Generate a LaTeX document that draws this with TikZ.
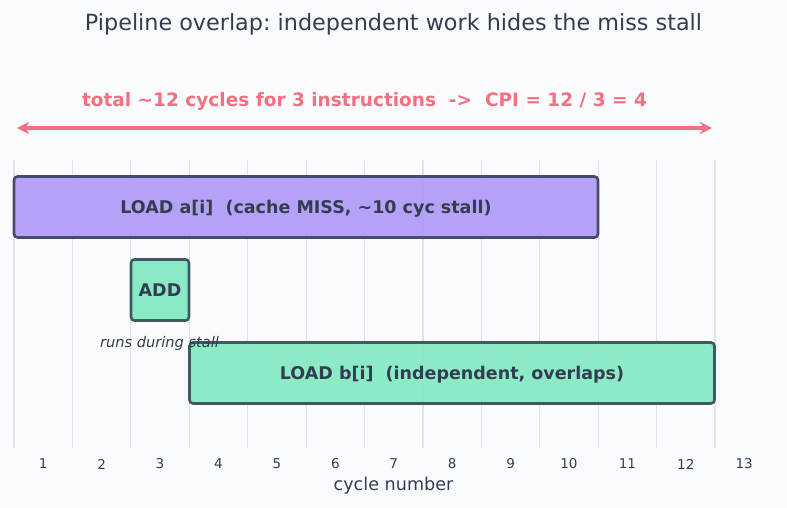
\documentclass[tikz,border=0pt]{standalone}
\usepackage{fontspec}
\setmainfont{DejaVu Sans}
\usetikzlibrary{arrows.meta}
\frenchspacing
\definecolor{bg}{HTML}{FAFBFE}
\definecolor{gridc}{HTML}{E2E3E8}
\definecolor{pinkc}{HTML}{F2707F}
\definecolor{purfill}{HTML}{B09BF8}
\definecolor{purdraw}{HTML}{474A6C}
\definecolor{grnfill}{HTML}{84E9C2}
\definecolor{grndraw}{HTML}{3E5A60}
\definecolor{txt}{HTML}{333D4F}
\newcommand{\barlbl}[1]{\raisebox{-6.6pt}[0pt][0pt]{#1}}
\tikzset{
  bar/.style={rounded corners=3.5pt, line width=2.6pt, inner sep=0pt, text=txt,
     font=\fontsize{17.5}{17.5}\selectfont\bfseries},
  gridline/.style={draw=gridc, line width=1.2pt},
  tick/.style={text=txt, font=\fontsize{13.5}{13.5}\selectfont},
}
\begin{document}
\begin{tikzpicture}[x=1pt,y=-1pt]
\fill[bg] (0,0) rectangle (787,508);
\useasboundingbox (0,0) rectangle (787,508);
% grid
\foreach \i in {0,...,12} {
  \draw[gridline] ({14+\i*58.42},160) -- ({14+\i*58.42},448);
}
% tick labels
\foreach \n in {1,...,13} {
  \node[tick] (t\n) at ({43.2+(\n-1)*58.42},464) {\n};
}
% bars
\node[bar, draw=purdraw, fill=purfill, fill opacity=0.92, text opacity=1,
  minimum width=584pt, minimum height=61pt] (loada) at (306,207)
  {\barlbl{LOAD a[i]\ \ (cache MISS, \textasciitilde10 cyc stall)}};
\node[bar, draw=grndraw, fill=grnfill, fill opacity=0.95, text opacity=1,
  minimum width=58pt, minimum height=61pt] (add) at (160,290) {\barlbl{ADD}};
\node[bar, draw=grndraw, fill=grnfill, fill opacity=0.92, text opacity=1,
  minimum width=525pt, minimum height=61pt] (loadb) at (452,373)
  {\barlbl{LOAD b[i]\ \ (independent, overlaps)}};
\node[text=txt, font=\fontsize{14.6}{14.6}\selectfont\itshape] (note) at (159.5,343) {runs during stall};
% arrow
\coordinate (al) at (17,128);
\coordinate (ar) at (712,128);
\draw[pinkc, line width=3.2pt, {Stealth[length=12pt,width=12pt,inset=3.5pt]}-{Stealth[length=12pt,width=12pt,inset=3.5pt]}] (al) -- (ar);
\node[text=pinkc, font=\fontsize{18.5}{18.5}\selectfont\bfseries] (tot) at (364.5,101)
  {total \textasciitilde12 cycles for 3 instructions\ \ ->\ \ CPI = 12 / 3 = 4};
% title and axis label
\node[text=txt, font=\fontsize{22.3}{22.3}\selectfont] (title) at (393.5,24.5)
  {Pipeline overlap: independent work hides the miss stall};
\node[text=txt, font=\fontsize{17.6}{17.6}\selectfont] (xl) at (393.5,486) {cycle number};
\end{tikzpicture}
\end{document}
